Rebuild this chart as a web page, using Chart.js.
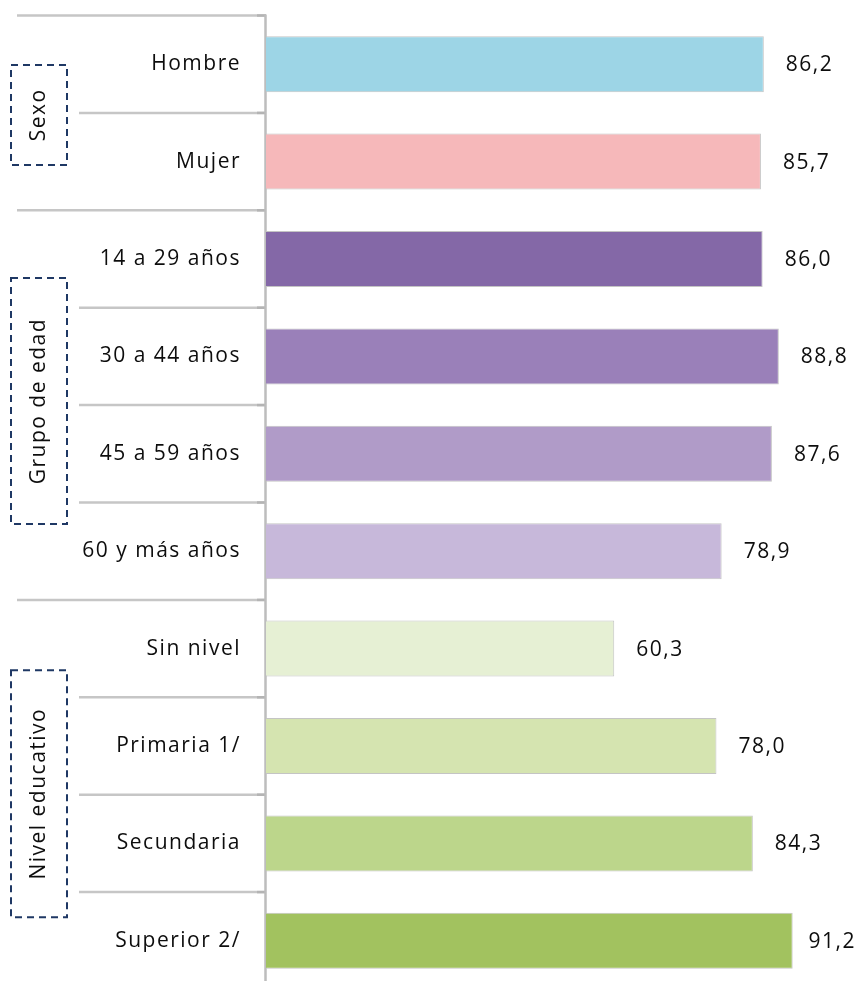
<!DOCTYPE html>
<html>
<head>
<meta charset="utf-8">
<script src="https://cdn.jsdelivr.net/npm/chart.js@4/dist/chart.umd.min.js"></script>
<style>
  html, body { margin: 0; padding: 0; background: #ffffff; overflow: hidden; }
  #wrap { width: 858px; height: 995px; }
</style>
</head>
<body>
<div id="wrap"><canvas id="c" width="858" height="995"></canvas></div>
<script>
// ---- data ----
const categories = ['Hombre', 'Mujer', '14 a 29 años', '30 a 44 años', '45 a 59 años', '60 y más años', 'Sin nivel', 'Primaria 1/', 'Secundaria', 'Superior 2/'];
const values = [86.2, 85.7, 86.0, 88.8, 87.6, 78.9, 60.3, 78.0, 84.3, 91.2];
const groupNames = ['Sexo', 'Grupo de edad', 'Nivel educativo'];
const groupFirst = [0, 2, 6];
const groupLast = [1, 5, 9];

// ---- styles ----
const barColors = ['#9dd5e6', '#f6b8ba', '#8468a7', '#9a80b9', '#b09bc8', '#c7b8da', '#e6f0d4', '#d5e4b0', '#bcd68b', '#a2c25f'];
const FONT = '21px "Open Sans"';
const SPACING = '1.5px';
const TEXT = '#0d0d0d';
const LINE = '#c6c6c6';
const BOX = '#1f3864';
const boxHeights = [100, 246, 247];
const boxShift = [2, -4, -1];

function fmt(v) { return v.toFixed(1).replace('.', ','); }

const decorPlugin = {
  id: 'decor',
  beforeDraw(chart) {
    chart.ctx.letterSpacing = SPACING;
  },
  beforeDatasetsDraw(chart) {
    const ctx = chart.ctx;
    const y = chart.scales.y;
    const area = chart.chartArea;
    const band = (y.getPixelForValue(1) - y.getPixelForValue(0));
    ctx.save();
    // separators
    for (let i = 0; i <= categories.length; i++) {
      const py = y.getPixelForValue(i) - band / 2;
      const isGroup = groupFirst.includes(i) || i === categories.length;
      ctx.strokeStyle = LINE;
      ctx.lineWidth = 2.5;
      ctx.beginPath();
      ctx.moveTo(isGroup ? 17 : 79, py);
      ctx.lineTo(area.left, py);
      ctx.stroke();
      ctx.strokeStyle = '#b4b4b4';
      ctx.beginPath();
      ctx.moveTo(area.left - 9, py);
      ctx.lineTo(area.left, py);
      ctx.stroke();
    }
    // axis line
    ctx.strokeStyle = '#bdbdbd';
    ctx.lineWidth = 2.5;
    ctx.beginPath();
    ctx.moveTo(area.left - 0.5, area.top - 1);
    ctx.lineTo(area.left - 0.5, chart.height);
    ctx.stroke();
    // group boxes
    for (let g = 0; g < groupNames.length; g++) {
      const top = y.getPixelForValue(groupFirst[g]) - band / 2;
      const bot = y.getPixelForValue(groupLast[g]) + band / 2;
      const cy = (top + bot) / 2 + boxShift[g];
      const h = boxHeights[g];
      ctx.strokeStyle = BOX;
      ctx.lineWidth = 2;
      ctx.setLineDash([7, 5]);
      ctx.strokeRect(11, cy - h / 2, 56, h);
      ctx.setLineDash([]);
      ctx.save();
      ctx.translate(39, cy);
      ctx.rotate(-Math.PI / 2);
      ctx.fillStyle = TEXT;
      ctx.font = FONT;
      ctx.letterSpacing = SPACING;
      ctx.textAlign = 'center';
      ctx.textBaseline = 'middle';
      ctx.fillText(groupNames[g], 0, 0);
      ctx.restore();
    }
    ctx.restore();
  },
  afterDatasetsDraw(chart) {
    const ctx = chart.ctx;
    const meta = chart.getDatasetMeta(0);
    ctx.save();
    ctx.font = FONT;
    ctx.letterSpacing = SPACING;
    ctx.fillStyle = TEXT;
    ctx.textAlign = 'left';
    ctx.textBaseline = 'middle';
    meta.data.forEach((bar, i) => {
      const txt = fmt(values[i]);
      const w = ctx.measureText(txt).width;
      let x = bar.x + 22;
      if (x + w > chart.width - 2) x = chart.width - 2 - w;
      ctx.fillText(txt, x, bar.y + 1);
    });
    ctx.restore();
  }
};

new Chart(document.getElementById('c'), {
  type: 'bar',
  data: {
    labels: categories,
    datasets: [{
      data: values,
      backgroundColor: barColors,
      borderColor: '#c4c4c4',
      borderWidth: 1,
      categoryPercentage: 1,
      barPercentage: 0.575
    }]
  },
  options: {
    indexAxis: 'y',
    responsive: false,
    animation: false,
    devicePixelRatio: 1,
    layout: { padding: { left: 0, right: 14.5, top: 15.5, bottom: 5.5 } },
    plugins: { legend: { display: false }, tooltip: { enabled: false } },
    scales: {
      x: { display: false, min: 0, max: 100 },
      y: {
        grid: { display: false, drawTicks: false },
        border: { display: false },
        ticks: {
          color: TEXT,
          font: { family: 'Open Sans', size: 21 },
          padding: 25
        },
        afterFit(scale) {
          scale.width = 266;
          scale.paddingTop = 0;
          scale.paddingBottom = 0;
        }
      }
    }
  },
  plugins: [decorPlugin]
});
</script>
</body>
</html>
